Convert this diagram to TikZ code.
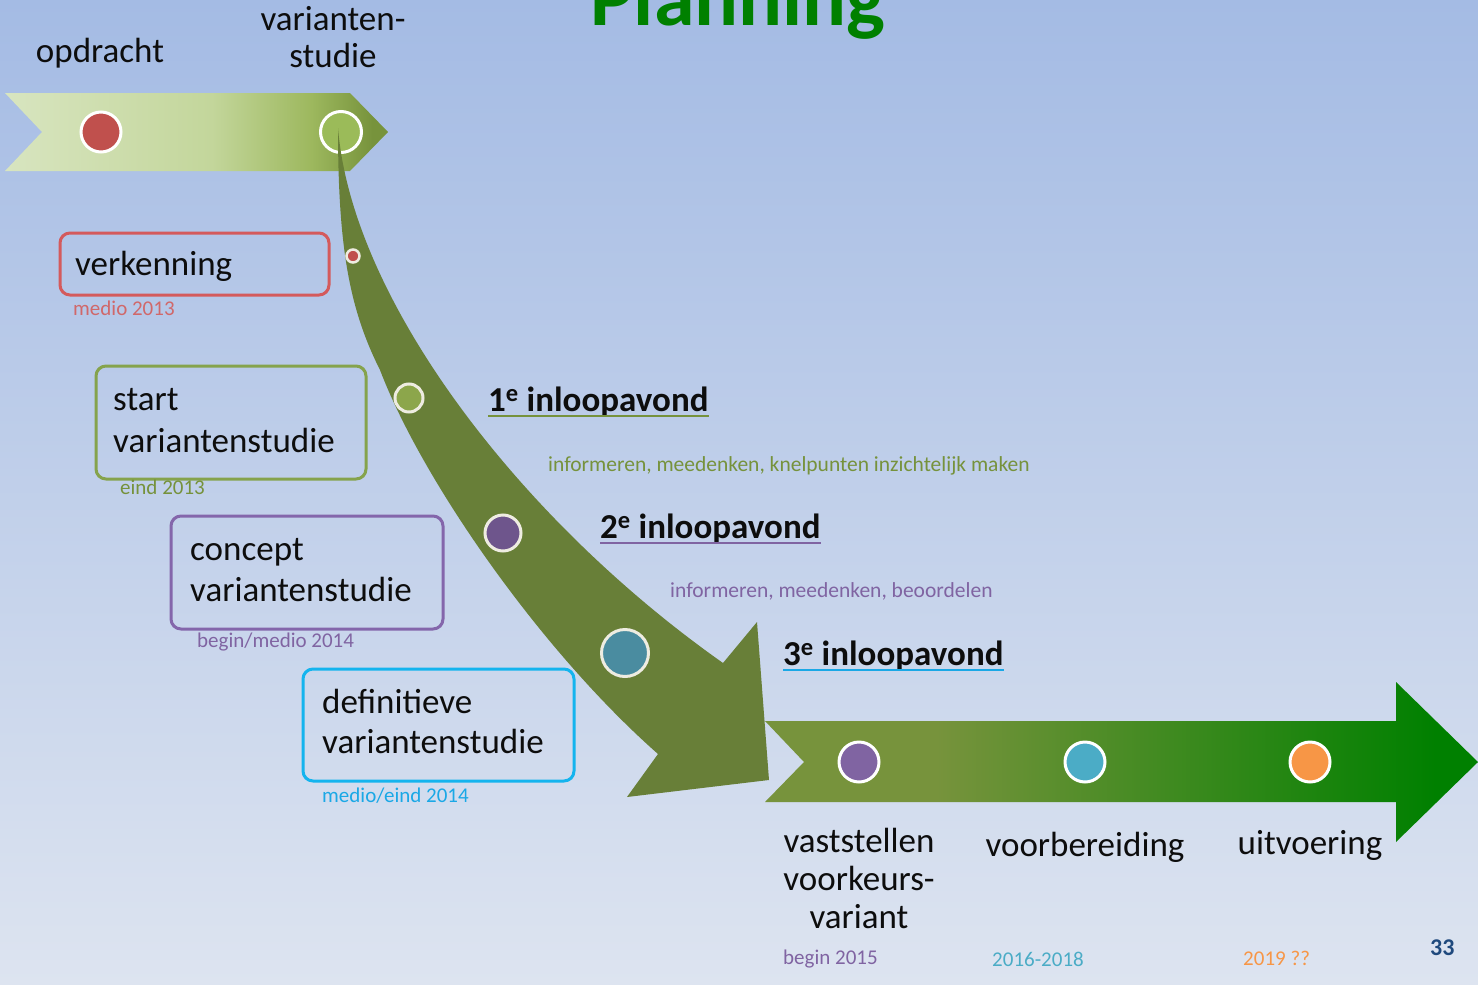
\documentclass[tikz,border=0pt]{standalone}
\usepackage{fontspec}
\setmainfont{Carlito}
\definecolor{bgtop}{HTML}{A4BBE4}
\definecolor{bgbot}{HTML}{DDE4F0}
\definecolor{olv}{HTML}{77933C}
\definecolor{bandc}{HTML}{687F38}
\definecolor{grn}{HTML}{008000}
\definecolor{lgrn}{HTML}{D8E5C0}
\definecolor{mgrn}{HTML}{C3D69B}
\definecolor{m2grn}{HTML}{9DB85E}
\definecolor{accred}{HTML}{C0504D}
\definecolor{topgrn}{HTML}{9BBB59}
\definecolor{bgrn}{HTML}{8CA64B}
\definecolor{bpur}{HTML}{6E558C}
\definecolor{bblue}{HTML}{4A8CA0}
\definecolor{accpur}{HTML}{8064A2}
\definecolor{accblue}{HTML}{4BACC6}
\definecolor{accorange}{HTML}{F79646}
\definecolor{cream}{HTML}{EEECE1}
\definecolor{boxred}{HTML}{D45A5C}
\definecolor{boxgrn}{HTML}{85A34C}
\definecolor{boxpur}{HTML}{8466AB}
\definecolor{boxcyan}{HTML}{14B4EE}
\definecolor{datered}{HTML}{D0686A}
\definecolor{dategrn}{HTML}{76923C}
\definecolor{datepur}{HTML}{8064A2}
\definecolor{datecyan}{HTML}{1AA8E6}
\definecolor{numblue}{HTML}{1F497D}
\definecolor{txt}{HTML}{0D0D0D}
\pgfdeclarehorizontalshading{toparrow}{100bp}{color(0bp)=(lgrn); color(25bp)=(lgrn); color(52bp)=(mgrn); color(65bp)=(m2grn); color(73bp)=(olv); color(100bp)=(olv)}
\pgfdeclarehorizontalshading{botarrow}{100bp}{color(0bp)=(olv); color(37bp)=(olv); color(72bp)=(grn); color(100bp)=(grn)}
\tikzset{
  lbl/.style={font=\fontsize{35}{42}\selectfont, text=txt, inner sep=0pt},
  datelbl/.style={font=\fontsize{21}{25}\selectfont, inner sep=0pt},
  sublbl/.style={font=\fontsize{21.5}{25}\selectfont, inner sep=0pt},
  evening/.style={font=\bfseries\fontsize{35}{42}\selectfont, text=txt, inner sep=0pt},
  titlelbl/.style={font=\bfseries\fontsize{82}{90}\selectfont, text=grn, inner sep=0pt},
  rbox/.style={draw, rectangle, rounded corners=10pt, line width=3pt, anchor=north west, inner sep=0pt},
  dot/.style={circle, inner sep=0pt, line width=3pt},
  uline/.style={line width=2pt}
}
\begin{document}
\begin{tikzpicture}[x=1pt,y=-1pt]
\useasboundingbox (0,0) rectangle (1478,985);
\clip (0,0) rectangle (1478,985);
\shade[top color=bgtop, bottom color=bgbot] (0,0) rectangle (1478,985);

% title
\node[titlelbl, anchor=base] (title) at (738,25) {Planning};

% top chevron arrow
\path[shading=toparrow] (5,93) -- (350,93) -- (388,132) -- (350,171) -- (5,171) -- (42,132) -- cycle;
\node[dot, fill=accred, draw=white, minimum size=40] (c1) at (101,132) {};
\node[dot, fill=topgrn, draw=white, minimum size=41] (c2) at (341,132) {};
\node[lbl, anchor=base] (opd) at (100,62) {opdracht};
\node[lbl, anchor=base] (vs1) at (333,30) {varianten-};
\node[lbl, anchor=base] (vs2) at (333,67) {studie};

% bottom arrow
\path[shading=botarrow] (765,721) -- (1396,721) -- (1396,682) -- (1478,762) -- (1396,842) -- (1396,802) -- (765,802) -- (804,762) -- cycle;

% curved arrow
\fill[bandc] (338,128) .. controls (352,300) and (520,520) .. (723,663) -- (757,622) -- (769,780) -- (627,797) -- (658,754)
  .. controls (540,650) and (422,480) .. (380,370)
  .. controls (350,310) and (338,250) .. (338,128) -- cycle;

% circles on curved arrow
\node[dot, fill=accred, draw=cream, minimum size=13, line width=2.5pt] (b1) at (353,256) {};
\node[dot, fill=bgrn, draw=cream, minimum size=28] (b2) at (409,398) {};
\node[dot, fill=bpur, draw=cream, minimum size=36] (b3) at (503,533) {};
\node[dot, fill=bblue, draw=cream, minimum size=47] (b4) at (625,653) {};

% circles on bottom arrow
\node[dot, fill=accpur, draw=white, minimum size=40] (d1) at (859,762) {};
\node[dot, fill=accblue, draw=white, minimum size=40] (d2) at (1085,762) {};
\node[dot, fill=accorange, draw=white, minimum size=40] (d3) at (1310,762) {};

% boxes
\node[rbox, draw=boxred, minimum width=269, minimum height=62] (bverk) at (58.5,231.5) {};
\node[lbl, anchor=base west] (tverk) at (75,275) {verkenning};
\node[datelbl, text=datered, anchor=base west] (dverk) at (73,315) {medio 2013};

\node[rbox, draw=boxgrn, minimum width=270, minimum height=113] (bstart) at (94.5,364.5) {};
\node[lbl, anchor=base west] (tstart1) at (113,410) {start};
\node[lbl, anchor=base west] (tstart2) at (113,452) {variantenstudie};
\node[datelbl, text=dategrn, anchor=base west] (dstart) at (120,494) {eind 2013};

\node[rbox, draw=boxpur, minimum width=272, minimum height=113] (bconc) at (169.5,514.5) {};
\node[lbl, anchor=base west] (tconc1) at (190,560) {concept};
\node[lbl, anchor=base west] (tconc2) at (190,601) {variantenstudie};
\node[datelbl, text=datepur, anchor=base west] (dconc) at (197,647) {begin/medio 2014};

\node[rbox, draw=boxcyan, minimum width=271, minimum height=112] (bdef) at (301.5,667.5) {};
\node[lbl, anchor=base west] (tdef1) at (322,713) {definitieve};
\node[lbl, anchor=base west] (tdef2) at (322,753) {variantenstudie};
\node[datelbl, text=datecyan, anchor=base west] (ddef) at (322,802) {medio/eind 2014};

% inloopavonden
\node[evening, anchor=base west] (e1) at (488,411) {1\textsuperscript{e} inloopavond};
\draw[uline, dategrn] ([yshift=-5pt]e1.base west) -- ([yshift=-5pt]e1.base east);
\node[sublbl, text=dategrn, anchor=base west] (s1) at (548,471) {informeren, meedenken, knelpunten inzichtelijk maken};

\node[evening, anchor=base west] (e2) at (600,538) {2\textsuperscript{e} inloopavond};
\draw[uline, datepur] ([yshift=-5pt]e2.base west) -- ([yshift=-5pt]e2.base east);
\node[sublbl, text=datepur, anchor=base west] (s2) at (670,597) {informeren, meedenken, beoordelen};

\node[evening, anchor=base west] (e3) at (783,665) {3\textsuperscript{e} inloopavond};
\draw[uline, datecyan] ([yshift=-5pt]e3.base west) -- ([yshift=-5pt]e3.base east);

% bottom labels
\node[lbl, anchor=base] (l1a) at (859,852) {vaststellen};
\node[lbl, anchor=base] (l1b) at (859,890) {voorkeurs-};
\node[lbl, anchor=base] (l1c) at (859,928) {variant};
\node[lbl, anchor=base] (l2) at (1085,856) {voorbereiding};
\node[lbl, anchor=base] (l3) at (1310,854) {uitvoering};
\node[datelbl, text=datepur, anchor=base west] (dl1) at (783,964) {begin 2015};
\node[datelbl, text=accblue, anchor=base west] (dl2) at (992,966) {2016-2018};
\node[datelbl, text=accorange, anchor=base west] (dl3) at (1243,965) {2019 ??};
\node[font=\bfseries\fontsize{24}{28}\selectfont, text=numblue, inner sep=0pt, anchor=base west] (num) at (1430,955) {33};
\end{tikzpicture}
\end{document}
